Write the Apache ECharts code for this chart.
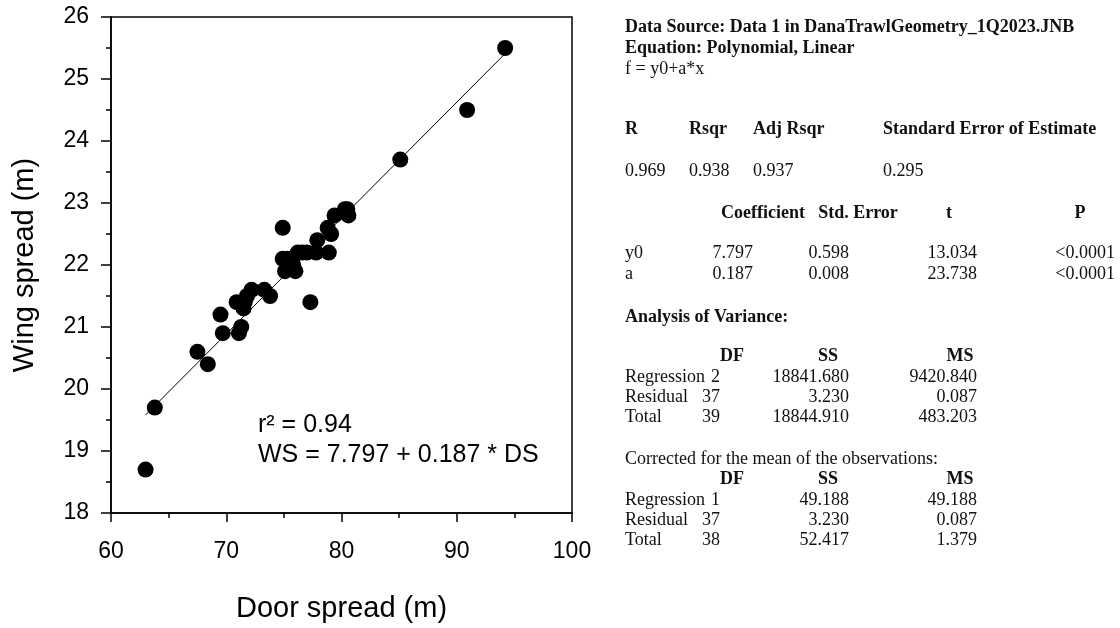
<!DOCTYPE html>
<html>
<head>
<meta charset="utf-8">
<script src="https://cdn.jsdelivr.net/npm/echarts@6/dist/echarts.min.js"></script>
<style>html,body{margin:0;padding:0;background:#fff}#c{width:1120px;height:628px}</style>
</head>
<body>
<div id="c"></div>
<script>
// ---- data ----
const doorSpread = [94.2, 90.9, 85.1, 80.5, 80.6, 79.4, 74.9, 78.8, 79.1, 77.9,
  78.9, 77.8, 77.0, 76.6, 74.9, 75.6, 75.1, 76.0, 75.5, 77.3,
  73.8, 73.3, 72.2, 71.8, 70.9, 71.5, 69.5, 71.3, 71.1, 69.7,
  67.5, 68.4, 63.8, 63.0, 75.3, 75.8, 71.6, 76.2, 80.3];
const wingSpread = [25.5, 24.5, 23.7, 22.9, 22.8, 22.8, 22.6, 22.6, 22.5, 22.4,
  22.2, 22.2, 22.2, 22.2, 22.1, 22.1, 21.9, 21.9, 22.0, 21.4,
  21.5, 21.6, 21.6, 21.5, 21.4, 21.3, 21.2, 21.0, 20.9, 20.9,
  20.6, 20.4, 19.7, 18.7, 22.1, 22.0, 21.4, 22.2, 22.9];
const fitLineX = [63.0, 94.2];
const fitLineY = [19.58, 25.41];
const annotationLines = ['r\u00B2 = 0.94', 'WS = 7.797 + 0.187 * DS'];
const xAxisTitle = 'Door spread (m)';
const yAxisTitle = 'Wing spread (m)';

const headerLines = ['Data Source: Data 1 in DanaTrawlGeometry_1Q2023.JNB', 'Equation: Polynomial, Linear', 'f = y0+a*x'];
const fitStatNames = ['R', 'Rsqr', 'Adj Rsqr', 'Standard Error of Estimate'];
const fitStatValues = ['0.969', '0.938', '0.937', '0.295'];
const coefHeaders = ['Coefficient', 'Std. Error', 't', 'P'];
const coefRows = [['y0', '7.797', '0.598', '13.034', '<0.0001'], ['a', '0.187', '0.008', '23.738', '<0.0001']];
const anovaTitle = 'Analysis of Variance:';
const anovaHeaders = ['DF', 'SS', 'MS'];
const anovaRows = [['Regression', '2', '18841.680', '9420.840'], ['Residual', '37', '3.230', '0.087'], ['Total', '39', '18844.910', '483.203']];
const correctedTitle = 'Corrected for the mean of the observations:';
const correctedRows = [['Regression', '1', '49.188', '49.188'], ['Residual', '37', '3.230', '0.087'], ['Total', '38', '52.417', '1.379']];

// ---- rendering ----
const SANS = '"Liberation Sans", Arial, sans-serif';
const SERIF = '"Liberation Serif", "Times New Roman", serif';
const points = doorSpread.map((x, i) => [x, wingSpread[i]]);
const fitLine = fitLineX.map((x, i) => [x, fitLineY[i]]);

function txt(text, x, y, bold, align) {
  return {
    type: 'text', x: x, y: y, silent: true,
    style: {
      text: text, fill: '#111',
      font: (bold ? 'bold ' : '') + '18px ' + SERIF,
      textAlign: align || 'left', align: align || 'left',
      textVerticalAlign: 'middle', verticalAlign: 'middle'
    }
  };
}
const g = [];
const L = 625;
headerLines.forEach((t, i) => g.push(txt(t, L, [27, 48, 69][i], i < 2)));
const statX = [625, 689, 753, 883];
fitStatNames.forEach((t, i) => g.push(txt(t, statX[i], 129, true)));
fitStatValues.forEach((t, i) => g.push(txt(t, statX[i], 171, false)));
const coefHX = [763, 858, 949, 1080];
coefHeaders.forEach((t, i) => g.push(txt(t, coefHX[i], 213, true, 'center')));
const coefVX = [753, 849, 977, 1115];
coefRows.forEach((r, j) => {
  const y = [253, 274][j];
  g.push(txt(r[0], L, y, false));
  for (let k = 1; k < r.length; k++) g.push(txt(r[k], coefVX[k - 1], y, false, 'right'));
});
function anovaBlock(title, titleBold, titleY, headY, rowYs, rows) {
  g.push(txt(title, L, titleY, titleBold));
  const hx = [732, 828, 960];
  anovaHeaders.forEach((t, i) => g.push(txt(t, hx[i], headY, true, 'center')));
  const vx = [720, 849, 977];
  rows.forEach((r, j) => {
    g.push(txt(r[0], L, rowYs[j], false));
    for (let k = 1; k < r.length; k++) g.push(txt(r[k], vx[k - 1], rowYs[j], false, 'right'));
  });
}
anovaBlock(anovaTitle, true, 317, 356, [377, 397, 417], anovaRows);
anovaBlock(correctedTitle, false, 459, 479, [500, 520, 540], correctedRows);

annotationLines.forEach((t, i) => g.push({
  type: 'text', x: 258, y: [425, 455][i], silent: true,
  style: { text: t, fill: '#000', font: '25px ' + SANS, textAlign: 'left', align: 'left', textVerticalAlign: 'middle', verticalAlign: 'middle' }
}));

const chart = echarts.init(document.getElementById('c'), null, { renderer: 'canvas' });
const axisCommon = {
  axisLine: { show: true, onZero: false, lineStyle: { color: '#000', width: 1.5 } },
  splitLine: { show: false },
  axisLabel: { color: '#000', fontSize: 23, fontFamily: SANS },
  nameTextStyle: { color: '#000', fontSize: 29, fontFamily: SANS },
  nameLocation: 'middle'
};
chart.setOption({
  animation: false,
  backgroundColor: '#fff',
  grid: { left: 111, top: 17, right: 548, bottom: 115, show: true, borderColor: '#000', borderWidth: 1.5, containLabel: false },
  xAxis: Object.assign({}, axisCommon, {
    type: 'value', min: 60, max: 100, interval: 10,
    name: xAxisTitle, nameGap: 81,
    axisTick: { show: true, inside: false, length: 9, lineStyle: { color: '#000', width: 1.5 } },
    minorTick: { show: true, splitNumber: 2, length: 5, lineStyle: { color: '#000', width: 1.5 } },
    axisLabel: Object.assign({}, axisCommon.axisLabel, { margin: 27 })
  }),
  yAxis: Object.assign({}, axisCommon, {
    type: 'value', min: 18, max: 26, interval: 1,
    name: yAxisTitle, nameGap: 72,
    axisTick: { show: true, inside: false, length: 10, lineStyle: { color: '#000', width: 1.5 } },
    minorTick: { show: true, splitNumber: 2, length: 5, lineStyle: { color: '#000', width: 1.5 } },
    axisLabel: Object.assign({}, axisCommon.axisLabel, { margin: 22 })
  }),
  series: [
    { type: 'line', data: fitLine, showSymbol: false, symbol: 'none', lineStyle: { color: '#000', width: 1 }, z: 1, silent: true },
    { type: 'scatter', data: points, symbol: 'circle', symbolSize: 16, itemStyle: { color: '#000', opacity: 1 }, z: 2 }
  ],
  graphic: g
});
</script>
</body>
</html>
